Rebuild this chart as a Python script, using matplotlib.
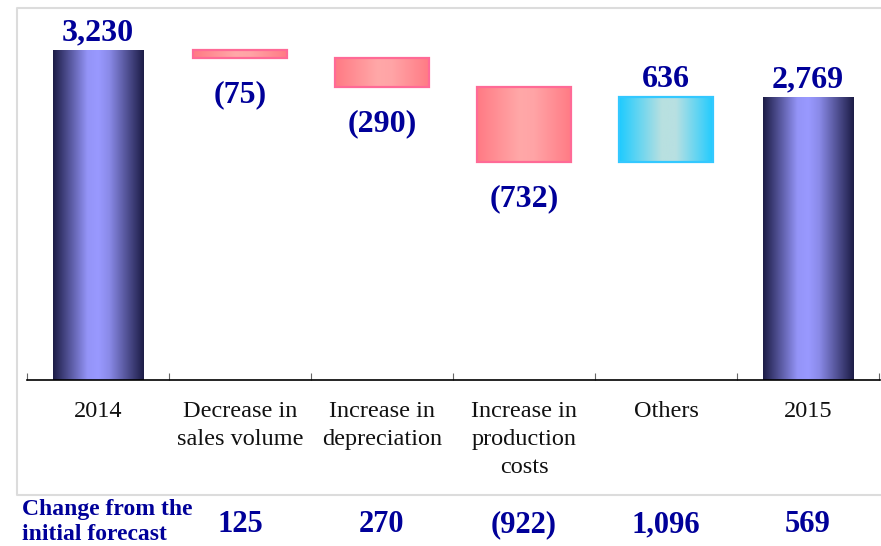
import numpy as np
import matplotlib
matplotlib.use("Agg")
import matplotlib.pyplot as plt
from matplotlib.colors import LinearSegmentedColormap
from matplotlib.lines import Line2D
from matplotlib.transforms import blended_transform_factory

# ---- data -------------------------------------------------------------
categories = ["2014", "Decrease in\nsales volume", "Increase in\ndepreciation",
              "Increase in\nproduction\ncosts", "Others", "2015"]
start_total = 3230
changes = [-75, -290, -732, 636]
end_total = 2769
forecast_change = [125, 270, -922, 1096, 569]
forecast_title = "Change from the\ninitial forecast"

# ---- styling ----------------------------------------------------------
W, H = 881, 546
LABEL_BLUE = "#000099"
SERIF = ["Liberation Serif", "DejaVu Serif"]

total_cmap = LinearSegmentedColormap.from_list(
    "total", [(0.0, "#1c1c46"), (0.38, "#9494f8"), (0.5, "#9999ff"),
              (0.62, "#8a8ae8"), (1.0, "#1c1c46")])
neg_cmap = LinearSegmentedColormap.from_list(
    "neg", [(0.0, "#ff7a84"), (0.45, "#ffa8a8"), (0.6, "#ffa4a6"), (1.0, "#ff7a84")])
pos_cmap = LinearSegmentedColormap.from_list(
    "pos", [(0.0, "#1ecbff"), (0.45, "#b8e0e0"), (0.6, "#b8e0e2"), (1.0, "#1ecbff")])


def fmt(v):
    s = f"{abs(v):,}"
    return f"({s})" if v < 0 else s


fig = plt.figure(figsize=(W / 100, H / 100), dpi=100)

# outer light frame (left, top and bottom edges; open on the right)
fx0, fx1 = 17 / W, 1.02
fy0, fy1 = 1 - 495 / H, 1 - 8 / H
fig.lines.append(Line2D([fx1, fx0, fx0, fx1], [fy1, fy1, fy0, fy0],
                        transform=fig.transFigure, color="#dcdcdc",
                        linewidth=1.5))

# axes: baseline at y=380 px, spanning x=27..880 px
base_px, top_px, left_px, right_px = 380, 8, 27, 880
px_per_unit = 330 / start_total
ax = fig.add_axes([left_px / W, (H - base_px) / H, (right_px - left_px) / W,
                   (base_px - top_px) / H])
ax.set_ylim(0, (base_px - top_px) / px_per_unit)
ax.set_xlim(-0.5, -0.5 + (right_px - left_px) / 142)
ax.patch.set_alpha(0)

# waterfall geometry
n = len(categories)
x = np.arange(n)
bottoms, heights, kinds = [0], [start_total], ["total"]
running = start_total
for c in changes:
    new = running + c
    bottoms.append(min(running, new))
    heights.append(abs(c))
    kinds.append("neg" if c < 0 else "pos")
    running = new
bottoms.append(0)
heights.append(end_total)
kinds.append("total")

widths = [0.634 if k == "total" else 0.662 for k in kinds]
edges = {"total": "none", "neg": "#ff6a96", "pos": "#33c8ff"}
cmaps = {"total": total_cmap, "neg": neg_cmap, "pos": pos_cmap}

bars = ax.bar(x, heights, width=widths, bottom=bottoms, facecolor="none",
              edgecolor=[edges[k] for k in kinds],
              linewidth=[0 if k == "total" else 1.6 for k in kinds], zorder=3)

grad = np.linspace(0, 1, 256).reshape(1, -1)
for bar, kind in zip(bars, kinds):
    x0, y0 = bar.get_x(), bar.get_y()
    im = ax.imshow(grad, cmap=cmaps[kind], aspect="auto",
                   extent=(x0, x0 + bar.get_width(), y0, y0 + bar.get_height()),
                   zorder=2, interpolation="bilinear")
    im.set_clip_path(bar)

# value labels
values = [start_total] + changes + [end_total]
for xi, v, b, h in zip(x, values, bottoms, heights):
    if v >= 0:
        ax.annotate(fmt(v), (xi, b + h), xytext=(0, 7), textcoords="offset points",
                    ha="center", va="baseline", fontsize=23, fontweight="bold",
                    color=LABEL_BLUE, family=SERIF)
    else:
        ax.annotate(fmt(v), (xi, b), xytext=(0, -16), textcoords="offset points",
                    ha="center", va="top", fontsize=23, fontweight="bold",
                    color=LABEL_BLUE, family=SERIF)

# axis styling
for side in ("left", "right", "top"):
    ax.spines[side].set_visible(False)
ax.spines["bottom"].set_linewidth(1.2)
ax.set_yticks([])
ax.set_xticks(x)
ax.set_xticklabels(categories, family=SERIF, fontsize=17.5, color="#111111",
                   linespacing=1.43)
ax.tick_params(axis="x", which="major", length=0, pad=15)
ax.set_xticks(np.arange(-0.5, n, 1.0), minor=True)
ax.tick_params(axis="x", which="minor", direction="in", length=5,
               width=0.8, color="#666666")

# change-from-forecast row
row_tr = blended_transform_factory(ax.transData, fig.transFigure)
row_y = 1 - 525 / H
fig.text(22 / W, 1 - 522 / H, forecast_title, ha="left", va="center",
         fontsize=17, fontweight="bold", color=LABEL_BLUE, family=SERIF,
         linespacing=1.22)
for xi, v in zip(x[1:], forecast_change):
    ax.text(xi, row_y, fmt(v), transform=row_tr, ha="center", va="center",
            fontsize=22, fontweight="bold", color=LABEL_BLUE, family=SERIF,
            clip_on=False)

fig.savefig("out.png", dpi=100)
